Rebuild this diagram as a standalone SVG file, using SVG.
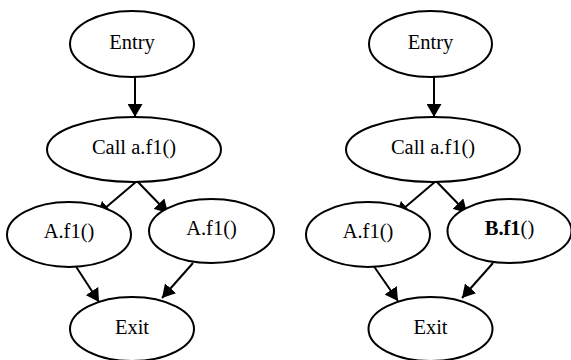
<svg xmlns="http://www.w3.org/2000/svg" width="571" height="360" viewBox="0 0 571 360">
<style>
.n ellipse{fill:#fff;stroke:#000;stroke-width:2}
.n text{font-family:'Liberation Serif','Times New Roman',serif;font-size:20.5px;fill:#000;text-anchor:middle}
.e line{stroke:#000;stroke-width:2}
</style>
<defs>
<marker id="ah" markerUnits="userSpaceOnUse" markerWidth="14" markerHeight="15" refX="13" refY="7.5" orient="auto">
<path d="M0,0 L13,7.5 L0,15 Z" fill="#000"/>
</marker>
</defs>
<rect width="571" height="360" fill="#fff"/>
<g id="connectors" class="e">
<line x1="135" y1="75" x2="135" y2="117" marker-end="url(#ah)"/>
<line x1="137" y1="181" x2="97" y2="215" marker-end="url(#ah)"/>
<line x1="137" y1="181" x2="168" y2="213" marker-end="url(#ah)"/>
<line x1="75" y1="265" x2="99" y2="302" marker-end="url(#ah)"/>
<line x1="193" y1="263" x2="162" y2="298" marker-end="url(#ah)"/>
<line x1="434" y1="75" x2="434" y2="117" marker-end="url(#ah)"/>
<line x1="436" y1="181" x2="396" y2="215" marker-end="url(#ah)"/>
<line x1="436" y1="181" x2="467" y2="213" marker-end="url(#ah)"/>
<line x1="373" y1="265" x2="398" y2="301" marker-end="url(#ah)"/>
<line x1="493" y1="263" x2="462" y2="298" marker-end="url(#ah)"/>
</g>
<g id="entry1" class="n"><ellipse cx="132" cy="44" rx="62" ry="33"/><text x="132" y="49">Entry</text></g>
<g id="call1" class="n"><ellipse cx="134" cy="149.5" rx="87" ry="32.5"/><text x="134" y="154">Call a.f1()</text></g>
<g id="a1left" class="n"><ellipse cx="69" cy="234.5" rx="62" ry="32.5"/><text x="69" y="238">A.f1()</text></g>
<g id="a1right" class="n"><ellipse cx="211.5" cy="231" rx="62.5" ry="32"/><text x="211.5" y="235">A.f1()</text></g>
<g id="exit1" class="n"><ellipse cx="132" cy="329" rx="62" ry="32"/><text x="132" y="334">Exit</text></g>
<g id="entry2" class="n"><ellipse cx="430.5" cy="44" rx="61.5" ry="33"/><text x="430.5" y="49">Entry</text></g>
<g id="call2" class="n"><ellipse cx="433" cy="149.5" rx="87" ry="32.5"/><text x="433" y="154">Call a.f1()</text></g>
<g id="a2" class="n"><ellipse cx="368" cy="234.5" rx="62" ry="32.5"/><text x="368" y="238">A.f1()</text></g>
<g id="b2" class="n"><ellipse cx="509.5" cy="231" rx="62" ry="32"/><text x="509.5" y="235"><tspan font-weight="bold">B.f1</tspan>()</text></g>
<g id="exit2" class="n"><ellipse cx="430.5" cy="329" rx="62" ry="32"/><text x="430.5" y="334">Exit</text></g>
</svg>
